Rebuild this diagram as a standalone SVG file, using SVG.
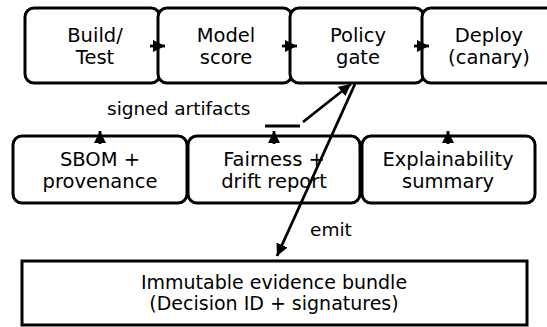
<svg xmlns="http://www.w3.org/2000/svg" width="547" height="327" viewBox="0 0 547 327">
<style>
.box{fill:#fff;stroke:#000;stroke-width:3}
.t{font-family:"DejaVu Sans",sans-serif;font-size:19.5px;fill:#000;text-anchor:middle}
.tb{font-size:19px}
.lbl{font-family:"DejaVu Sans",sans-serif;font-size:18.5px;fill:#000}
.c{fill:none;stroke:#000;stroke-width:2.8}
</style>
<defs>
<marker id="ah" markerUnits="userSpaceOnUse" markerWidth="12" markerHeight="12" refX="12" refY="6" orient="auto">
<path d="M0,0 L12,6 L0,12 z" fill="#000"/>
</marker>
</defs>
<rect width="547" height="327" fill="#fff"/>
<g id="build"><rect class="box" x="25" y="8" width="135" height="75" rx="9"/><text class="t" x="95" y="42">Build/</text><text class="t" x="95" y="64">Test</text></g>
<g id="model"><rect class="box" x="158" y="8" width="134" height="75" rx="9"/><text class="t" x="226" y="42">Model</text><text class="t" x="226" y="64">score</text></g>
<g id="policy"><rect class="box" x="290" y="8" width="134" height="75" rx="9"/><text class="t" x="358" y="42">Policy</text><text class="t" x="358" y="64">gate</text></g>
<g id="deploy"><rect class="box" x="422" y="8" width="134" height="75" rx="9"/><text class="t" x="489" y="42">Deploy</text><text class="t" x="489" y="64">(canary)</text></g>
<g id="sbom"><rect class="box" x="13" y="136" width="174" height="67" rx="9"/><text class="t" x="100" y="166">SBOM +</text><text class="t" x="100" y="188">provenance</text></g>
<g id="fairness"><rect class="box" x="188" y="136" width="172" height="67" rx="9"/><text class="t" x="274" y="166">Fairness +</text><text class="t" x="274" y="188">drift report</text></g>
<g id="explain"><rect class="box" x="362" y="136" width="173" height="67" rx="9"/><text class="t" x="448" y="166">Explainability</text><text class="t" x="448" y="188">summary</text></g>
<g id="evidence"><rect class="box" x="22" y="261" width="505" height="64"/><text class="t tb" x="274" y="289">Immutable evidence bundle</text><text class="t tb" x="274" y="310">(Decision ID + signatures)</text></g>
<g id="connectors">
<path class="c" d="M150,46 L165,46" marker-end="url(#ah)"/>
<path class="c" d="M282,46 L297,46" marker-end="url(#ah)"/>
<path class="c" d="M414,46 L429,46" marker-end="url(#ah)"/>
<path class="c" d="M100,144 L100,131" marker-end="url(#ah)"/>
<path class="c" d="M274,144 L274,131" marker-end="url(#ah)"/>
<path class="c" d="M448,144 L448,131" marker-end="url(#ah)"/>
<path class="c" d="M265,126 L300,126"/>
<path class="c" d="M303,122 L351,84" marker-end="url(#ah)"/>
<path class="c" d="M355,84 L277,256" marker-end="url(#ah)"/>
<text class="lbl" x="107" y="115">signed artifacts</text>
<text class="lbl" x="310" y="236">emit</text>
</g>
</svg>
